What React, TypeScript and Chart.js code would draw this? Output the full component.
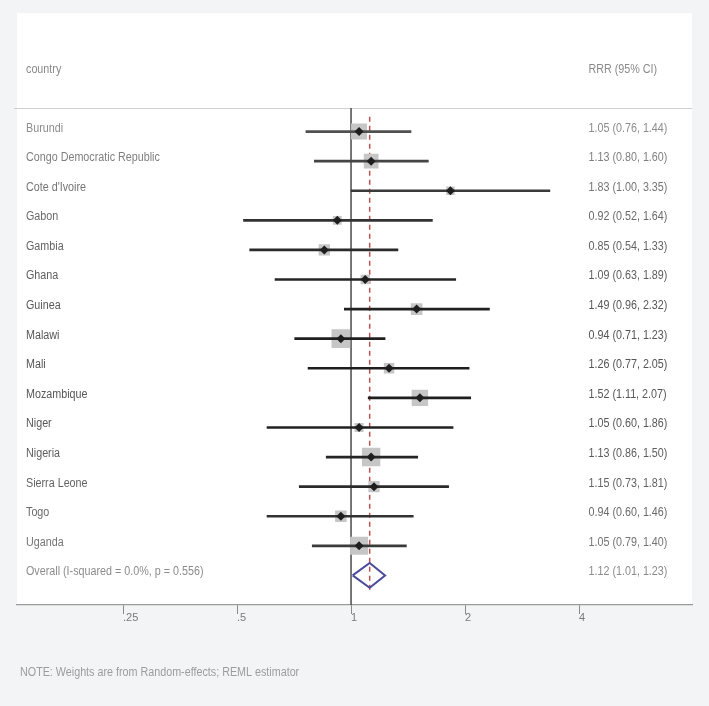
import React, { useEffect, useRef } from "react";
import { Chart, registerables } from "chart.js";

Chart.register(...registerables);

// ---------------- data ----------------
const countries = [
  "Burundi",
  "Congo Democratic Republic",
  "Cote d'Ivoire",
  "Gabon",
  "Gambia",
  "Ghana",
  "Guinea",
  "Malawi",
  "Mali",
  "Mozambique",
  "Niger",
  "Nigeria",
  "Sierra Leone",
  "Togo",
  "Uganda",
];
const rrr = [1.05, 1.13, 1.83, 0.92, 0.85, 1.09, 1.49, 0.94, 1.26, 1.52, 1.05, 1.13, 1.15, 0.94, 1.05];
const ciLow = [0.76, 0.8, 1.0, 0.52, 0.54, 0.63, 0.96, 0.71, 0.77, 1.11, 0.6, 0.86, 0.73, 0.6, 0.79];
const ciHigh = [1.44, 1.6, 3.35, 1.64, 1.33, 1.89, 2.32, 1.23, 2.05, 2.07, 1.86, 1.5, 1.81, 1.46, 1.4];
// study weights (%)
const weights = [9.5, 8.0, 2.7, 2.9, 4.8, 3.2, 5.0, 12.9, 4.0, 10.0, 3.0, 12.5, 4.7, 4.9, 11.9];

const overallLabel = "Overall (I-squared = 0.0%, p = 0.556)";
const overallEst = 1.12;
const overallLow = 1.01;
const overallHigh = 1.23;

const xTickValues = [0.25, 0.5, 1, 2, 4];
const xTickLabels = [".25", ".5", "1", "2", "4"];

const headerLeft = "country";
const headerRight = "RRR (95% CI)";
const noteText = "NOTE: Weights are from Random-effects; REML estimator";

// ---------------- layout constants ----------------
const W = 709;
const H = 706;
const X_MIN = 0.1312;
const X_MAX = 7.95;
const Y_MIN = -4;
const Y_MAX = 16;
const HEADER_ROW = -2.1;
const SEP_ROW = -0.8;
const DASH_TOP = -0.5;
const DASH_BOTTOM = 15.5;
const OVERALL_ROW = countries.length;
const DIAMOND_HALF = 0.42;

const FONT_FAMILY = '"Liberation Sans", Arial, Helvetica, sans-serif';
const TEXT_SCALE_X = 0.86;

function shade(i: number, dark: number, light: number) {
  const t = Math.min(1, Math.pow((i - 8) / 8, 2));
  const v = Math.round(dark + (light - dark) * t);
  return `rgb(${v},${v},${v})`;
}

const fmt = (v: number) => v.toFixed(2);

const forestPlugin = {
  id: "forestPlugin",
  beforeDraw(chart: any) {
    const { ctx, chartArea: a } = chart;
    ctx.save();
    ctx.fillStyle = "#ffffff";
    ctx.fillRect(a.left, a.top, a.right - a.left, a.bottom - a.top);
    // header separator
    const ys = chart.scales.y;
    const sy = Math.round(ys.getPixelForValue(SEP_ROW)) + 0.5;
    ctx.strokeStyle = "#cfcfcf";
    ctx.lineWidth = 1;
    ctx.beginPath();
    ctx.moveTo(a.left - 3, sy);
    ctx.lineTo(a.right, sy);
    ctx.stroke();
    ctx.restore();
  },
  afterDraw(chart: any) {
    const { ctx, chartArea: a } = chart;
    const ys = chart.scales.y;
    const leftX = a.left + 9;
    const rightX = a.right - 103.5;
    const draw = (s: string, x: number, y: number, color: string) => {
      ctx.save();
      ctx.translate(x, y);
      ctx.scale(TEXT_SCALE_X, 1);
      ctx.fillStyle = color;
      ctx.fillText(s, 0, 0);
      ctx.restore();
    };
    ctx.save();
    ctx.font = `12.5px ${FONT_FAMILY}`;
    ctx.textBaseline = "middle";
    ctx.textAlign = "left";
    const hy = ys.getPixelForValue(HEADER_ROW);
    draw(headerLeft, leftX, hy, "#8a8a8a");
    draw(headerRight, rightX, hy, "#8a8a8a");
    countries.forEach((c, i) => {
      const y = ys.getPixelForValue(i) - 3.5;
      const col = shade(i, 85, 140);
      draw(c, leftX, y, col);
      draw(`${fmt(rrr[i])} (${fmt(ciLow[i])}, ${fmt(ciHigh[i])})`, rightX, y, col);
    });
    const oy = ys.getPixelForValue(OVERALL_ROW) - 3.5;
    draw(overallLabel, leftX, oy, "#8c8c8c");
    draw(`${fmt(overallEst)} (${fmt(overallLow)}, ${fmt(overallHigh)})`, rightX, oy, "#8c8c8c");
    draw(noteText, a.left + 3, a.bottom + 68, "#9c9c9c");
    ctx.restore();
  },
};

export default function App() {
  const ref = useRef<HTMLCanvasElement | null>(null);

  useEffect(() => {
    if (!ref.current) return;
    const boxRadius = weights.map((w) => (5.2 * Math.sqrt(w)) / Math.SQRT2);
    const lineColors = countries.map((_, i) => shade(i, 30, 80));

    const chart = new Chart(ref.current, {
      type: "scatter",
      data: {
        datasets: [
          {
            type: "line",
            data: [
              { x: 1, y: SEP_ROW },
              { x: 1, y: Y_MAX },
            ],
            borderColor: "#4a4a4a",
            borderWidth: 1.5,
            pointRadius: 0,
            order: 6,
          } as any,
          {
            type: "line",
            data: [
              { x: overallEst, y: DASH_TOP },
              { x: overallEst, y: DASH_BOTTOM },
            ],
            borderColor: "#b8524e",
            borderWidth: 1.5,
            borderDash: [5, 4],
            pointRadius: 0,
            order: 5,
          } as any,
          {
            type: "scatter",
            data: countries.map((_, i) => ({ x: rrr[i], y: i })),
            pointStyle: "rect",
            pointRadius: boxRadius,
            backgroundColor: "#c6c6c6",
            borderWidth: 0,
            order: 4,
          } as any,
          {
            type: "bar",
            indexAxis: "y",
            data: countries.map((_, i) => ({ x: [ciLow[i], ciHigh[i]], y: i })),
            barThickness: 2,
            backgroundColor: lineColors,
            borderWidth: 0,
            borderSkipped: false,
            order: 3,
          } as any,
          {
            type: "line",
            data: [
              { x: overallLow, y: OVERALL_ROW },
              { x: overallEst, y: OVERALL_ROW - DIAMOND_HALF },
              { x: overallHigh, y: OVERALL_ROW },
              { x: overallEst, y: OVERALL_ROW + DIAMOND_HALF },
              { x: overallLow, y: OVERALL_ROW },
            ],
            borderColor: "#4b4b9b",
            borderWidth: 2,
            borderJoinStyle: "miter",
            pointRadius: 0,
            fill: false,
            order: 2,
          } as any,
          {
            type: "scatter",
            data: countries.map((_, i) => ({ x: rrr[i], y: i })),
            pointStyle: "rectRot",
            pointRadius: 4.5,
            backgroundColor: "#1e1e1e",
            borderWidth: 0,
            order: 1,
          } as any,
        ],
      },
      options: {
        animation: false,
        responsive: false,
        devicePixelRatio: 1,
        events: [],
        layout: { padding: { left: 17, right: 17, top: 13, bottom: 0 } },
        plugins: {
          legend: { display: false },
          tooltip: { enabled: false },
        },
        scales: {
          x: {
            type: "logarithmic",
            min: X_MIN,
            max: X_MAX,
            bounds: "data",
            offset: false,
            afterBuildTicks: (s: any) => {
              s.ticks = xTickValues.map((v) => ({ value: v }));
            },
            afterFit: (s: any) => {
              s.height = 101;
            },
            ticks: {
              autoSkip: false,
              maxRotation: 0,
              align: "start",
              padding: -3,
              color: "#7a7a7a",
              font: { size: 11, family: FONT_FAMILY },
              callback: (_v: any, idx: number) => xTickLabels[idx],
            },
            grid: {
              drawOnChartArea: false,
              drawTicks: true,
              tickLength: 9,
              color: "#8a8a8a",
              lineWidth: 1,
              offset: false,
            },
            border: { display: true, color: "#9a9a9a", width: 1.2 },
          } as any,
          y: {
            type: "linear",
            min: Y_MIN,
            max: Y_MAX,
            reverse: true,
            offset: false,
            display: false,
            grid: { offset: false },
          } as any,
        },
      },
      plugins: [forestPlugin],
    });
    return () => chart.destroy();
  }, []);

  return (
    <div
      style={{
        position: "fixed",
        left: 0,
        top: 0,
        width: W,
        height: H,
        background: "#f3f4f5",
      }}
    >
      <canvas ref={ref} width={W} height={H} style={{ display: "block", width: W, height: H }} />
    </div>
  );
}
